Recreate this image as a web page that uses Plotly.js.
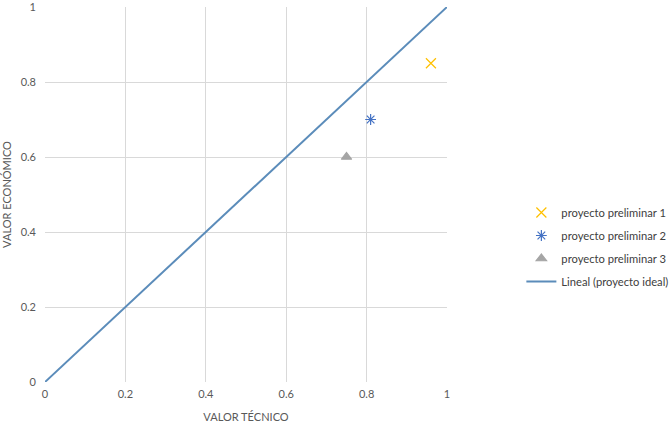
<!DOCTYPE html>
<html><head><meta charset="utf-8">
<script src="https://cdn.plot.ly/plotly-3.0.1.min.js"></script>
<style>body{margin:0}#c{width:672px;height:425px}</style>
</head><body><div id="c"></div>
<script>
var names = ["proyecto preliminar 1","proyecto preliminar 2","proyecto preliminar 3"];
var tecnico = [0.96, 0.81, 0.75];
var economico = [0.85, 0.70, 0.60];
var idealX = [0, 1];
var idealY = [0, 1];
var ticks = [0, 0.2, 0.4, 0.6, 0.8, 1];
var tickLabels = ["0","0.2","0.4","0.6","0.8","1"];

var symbols = ["x-thin-open","asterisk-open","triangle-up"];
var colors = ["#ffc000","#4472c4","#a5a5a5"];
var sizes = [10,9,9];
var traces = names.map(function(n,i){
  return {x:[tecnico[i]], y:[economico[i]], name:n, legendgroup:"g"+i, mode:"markers", type:"scatter", cliponaxis:false,
    marker:{symbol:symbols[i], color:colors[i], size:sizes[i], line:{color:colors[i], width:1.2}}};
});
traces.push({x:idealX, y:idealY, name:"Lineal (proyecto ideal)", legendgroup:"g3", mode:"lines", type:"scatter",
  line:{color:"#5b8cba", width:2}});

var axisCommon = {range:[0,1], tickvals:ticks, ticktext:tickLabels, showgrid:true, gridcolor:"#d9d9d9",
  zeroline:false, showline:false, ticks:"", tickfont:{size:11, color:"#595959"}, fixedrange:true,
  automargin:false, ticklabeloverflow:"allow"};
var layout = {
  width:672, height:425, margin:{l:45, r:225, t:7, b:43, autoexpand:false},
  paper_bgcolor:"#fff", plot_bgcolor:"#fff",
  font:{family:"Lato, sans-serif", color:"#595959", size:11},
  xaxis:Object.assign({}, axisCommon, {ticklabelstandoff:4, title:{text:"VALOR TÉCNICO", font:{size:11, color:"#595959"}, standoff:14}}),
  yaxis:Object.assign({}, axisCommon, {ticklabelstandoff:8, title:{text:"VALOR ECONÓMICO", font:{size:11, color:"#595959"}, standoff:12}}),
  legend:{x:1.185, y:0.36, xanchor:"left", yanchor:"middle", font:{size:11.2, color:"#404040"},
    traceorder:"grouped", tracegroupgap:4, itemwidth:30},
  showlegend:true
};
Plotly.newPlot("c", traces, layout, {staticPlot:true});
</script></body></html>
